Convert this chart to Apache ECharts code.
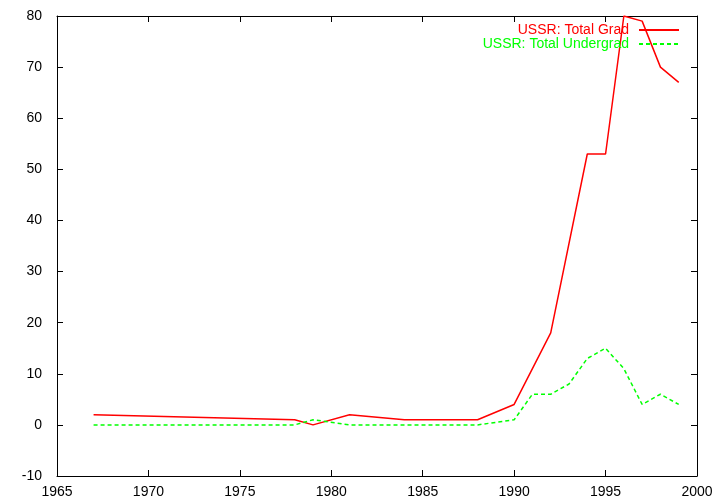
<!DOCTYPE html>
<html><head><meta charset="utf-8">
<script src="https://cdn.jsdelivr.net/npm/echarts@6/dist/echarts.min.js"></script>
<style>html,body{margin:0;padding:0;background:#fff}#c{width:720px;height:504px}</style>
</head><body><div id="c"></div>
<script>
const gradYears = [1967, 1978, 1979, 1981, 1984, 1988, 1990, 1992, 1994, 1995, 1996, 1997, 1998, 1999];
const gradValues = [2, 1, 0, 2, 1, 1, 4, 18, 53, 53, 80, 79, 70, 67];
const ugYears = [1967, 1978, 1979, 1981, 1984, 1988, 1990, 1991, 1992, 1993, 1994, 1995, 1996, 1997, 1998, 1999];
const ugValues = [0, 0, 1, 0, 0, 0, 1, 6, 6, 8, 13, 15, 11, 4, 6, 4];
const seriesNames = ['USSR: Total Grad', 'USSR: Total Undergrad'];
const xTicks = [1965, 1970, 1975, 1980, 1985, 1990, 1995, 2000];
const yTicks = [-10, 0, 10, 20, 30, 40, 50, 60, 70, 80];

const font = 'Liberation Sans, Arial, Helvetica, sans-serif';
const axisLine = {show: true, onZero: false, lineStyle: {color: '#000', width: 1}};
const tick = {show: true, inside: true, length: 6, lineStyle: {color: '#000'}};
const chart = echarts.init(document.getElementById('c'));
chart.setOption({
  animation: false,
  grid: {left: 57, right: 23, top: 16, bottom: 28},
  legend: {
    orient: 'vertical', right: 40, top: 23, align: 'right', padding: 0,
    itemWidth: 40, itemHeight: 10, itemGap: 0,
    itemStyle: {opacity: 0},
    textStyle: {fontFamily: font, fontSize: 14, padding: [0, 5, 0, 0]},
    data: [
      {name: seriesNames[0], textStyle: {color: '#ff0000'}},
      {name: seriesNames[1], textStyle: {color: '#00ff00'}}
    ]
  },
  xAxis: [
    {type: 'value', min: xTicks[0], max: xTicks[xTicks.length-1], interval: 5,
     axisLine, axisTick: tick, splitLine: {show: false},
     axisLabel: {color: '#000', fontFamily: font, fontSize: 14, margin: 9, formatter: v => String(v)}},
    {type: 'value', position: 'top', min: xTicks[0], max: xTicks[xTicks.length-1], interval: 5,
     axisLine, axisTick: tick, splitLine: {show: false}, axisLabel: {show: false}}
  ],
  yAxis: [
    {type: 'value', min: yTicks[0], max: yTicks[yTicks.length-1], interval: 10,
     axisLine, axisTick: tick, splitLine: {show: false},
     axisLabel: {color: '#000', fontFamily: font, fontSize: 14, margin: 15}},
    {type: 'value', position: 'right', min: yTicks[0], max: yTicks[yTicks.length-1], interval: 10,
     axisLine, axisTick: tick, splitLine: {show: false}, axisLabel: {show: false}}
  ],
  series: [
    {name: seriesNames[0], type: 'line', symbol: 'none',
     data: gradYears.map((y, i) => [y, gradValues[i]]),
     lineStyle: {color: '#ff0000', width: 1.5}, itemStyle: {color: '#ff0000'}},
    {name: seriesNames[1], type: 'line', symbol: 'none',
     data: ugYears.map((y, i) => [y, ugValues[i]]),
     lineStyle: {color: '#00ff00', width: 1.5, type: [4, 3]}, itemStyle: {color: '#00ff00'}}
  ]
});
</script></body></html>
